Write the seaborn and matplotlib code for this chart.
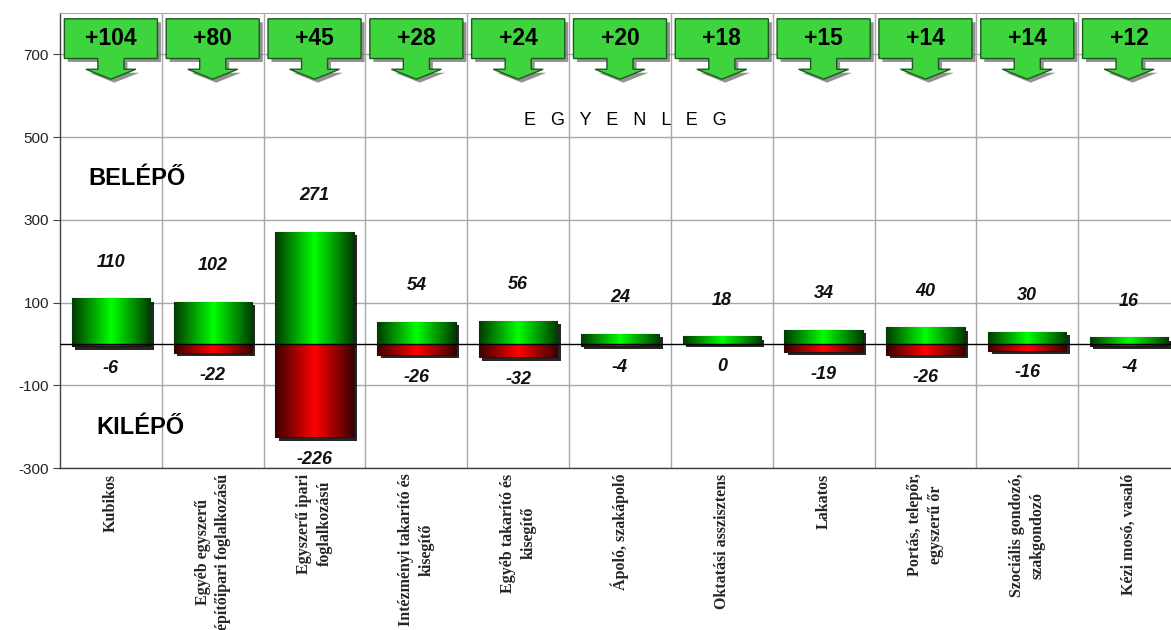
import numpy as np
import pandas as pd
import matplotlib
matplotlib.use("Agg")
import matplotlib.pyplot as plt
import seaborn as sns
from matplotlib import patheffects as pe
from matplotlib.patches import Polygon
from matplotlib.colors import LinearSegmentedColormap

categories = [
    "Kubikos",
    "Egyéb egyszerű\népítőipari foglalkozású",
    "Egyszerű ipari\nfoglalkozású",
    "Intézményi takarító és\nkisegítő",
    "Egyéb takarító és\nkisegítő",
    "Ápoló, szakápoló",
    "Oktatási asszisztens",
    "Lakatos",
    "Portás, telepőr,\negyszerű őr",
    "Szociális gondozó,\nszakgondozó",
    "Kézi mosó, vasaló",
]
belepo = [110, 102, 271, 54, 56, 24, 18, 34, 40, 30, 16]
kilepo = [-6, -22, -226, -26, -32, -4, 0, -19, -26, -16, -4]
egyenleg = [104, 80, 45, 28, 24, 20, 18, 15, 14, 14, 12]
y_ticks = [-300, -100, 100, 300, 500, 700]

sns.set_style("white")
plt.rcParams['font.family'] = ['Liberation Sans', 'DejaVu Sans']

fig = plt.figure(figsize=(11.71, 6.30), dpi=100)
ax = fig.add_axes([60 / 1171, 1 - 468 / 630, 1120 / 1171, 455 / 630])

df = pd.DataFrame({"cat": categories, "be": belepo, "ki": kilepo})
sns.barplot(data=df, x="cat", y="be", color="#00cc00", width=0.77, ax=ax,
            errorbar=None, zorder=3, edgecolor="#102010", linewidth=0.8)
sns.barplot(data=df, x="cat", y="ki", color="#cc0000", width=0.77, ax=ax,
            errorbar=None, zorder=3, edgecolor="#201010", linewidth=0.8)

green_cm = LinearSegmentedColormap.from_list("g", ["#003a00", "#00ff00", "#003a00"])
red_cm = LinearSegmentedColormap.from_list("r", ["#3a0000", "#ff0000", "#3a0000"])
grad = np.linspace(0, 1, 256)[None, :]

n = len(categories)
bars = list(ax.patches)
for k, p in enumerate(bars):
    h = p.get_height()
    if h == 0:
        continue
    p.set_path_effects([pe.SimplePatchShadow(offset=(2.5, -2.5), shadow_rgbFace="black", alpha=0.85),
                        pe.Normal()])
    x0 = p.get_x()
    x1 = x0 + p.get_width()
    y0 = p.get_y()
    y1 = y0 + h
    cm = green_cm if k < n else red_cm
    im = ax.imshow(grad, cmap=cm, extent=(x0, x1, min(y0, y1), max(y0, y1)),
                   aspect="auto", zorder=3.5, interpolation="bilinear")
    im.set_clip_path(p)

# value labels
for i, v in enumerate(belepo):
    ax.annotate(str(v), xy=(i, v), xytext=(0, 20), textcoords="offset points",
                ha="center", va="bottom", fontsize=13, fontweight="bold",
                style="italic", color="#111111", zorder=6)
for i, v in enumerate(kilepo):
    ax.annotate(str(v), xy=(i, v), xytext=(0, -10), textcoords="offset points",
                ha="center", va="top", fontsize=13, fontweight="bold",
                style="italic", color="#111111", zorder=6)

# zero line
ax.axhline(0, color="black", lw=1, zorder=4)

# top callout arrows
for i, v in enumerate(egyenleg):
    pts = [(i - 0.457, 786), (i + 0.457, 786), (i + 0.457, 690), (i + 0.128, 690),
           (i + 0.128, 664), (i + 0.245, 664), (i, 640), (i - 0.245, 664),
           (i - 0.128, 664), (i - 0.128, 690), (i - 0.457, 690)]
    poly = Polygon(pts, closed=True, facecolor="#3ed43e", edgecolor="#1e5a1e",
                   lw=1.0, zorder=7, clip_on=False)
    poly.set_path_effects([pe.SimplePatchShadow(offset=(2.5, -2.5), shadow_rgbFace="#777777", alpha=0.8),
                           pe.Normal()])
    ax.add_patch(poly)
    ax.text(i, 738, f"+{v}", ha="center", va="center", fontsize=16.5,
            fontweight="bold", color="black", zorder=8)

ax.text(0.26, 399, "BELÉPŐ", ha="center", va="center", fontsize=17,
        fontweight="bold", color="black", zorder=6)
ax.text(0.29, -201, "KILÉPŐ", ha="center", va="center", fontsize=17,
        fontweight="bold", color="black", zorder=6)
ax.text(5.05, 540, "E   G   Y   E   N   L   E   G", ha="center", va="center",
        fontsize=13, color="black", zorder=6)

ax.set_xlim(-0.5, n - 0.5)
ax.set_ylim(-300, 800)
ax.set_yticks(y_ticks)
ax.set_yticklabels([str(t) for t in y_ticks], fontsize=11, color="#222222")
ax.set_xticks(range(n))
ax.set_xticklabels(categories, rotation=90, fontsize=11.5, fontweight="bold",
                   family="Liberation Serif", va="top", ha="center",
                   multialignment="center", linespacing=1.35)
ax.set_xticks(np.arange(0.5, n - 0.5, 1), minor=True)
ax.tick_params(axis="x", which="both", length=0, pad=4)
ax.tick_params(axis="y", length=5, direction="out", color="#404040", left=True, pad=3)
ax.yaxis.grid(True, color="#a8a8a8", lw=1)
ax.xaxis.grid(True, which="minor", color="#a8a8a8", lw=1)
ax.xaxis.grid(False, which="major")
ax.set_axisbelow(True)
ax.set_xlabel("")
ax.set_ylabel("")
for s in ["left", "bottom"]:
    ax.spines[s].set_color("#404040")
    ax.spines[s].set_linewidth(1)
ax.spines["top"].set_color("#a8a8a8")
ax.spines["right"].set_visible(False)

fig.savefig("out.png", dpi=100)
